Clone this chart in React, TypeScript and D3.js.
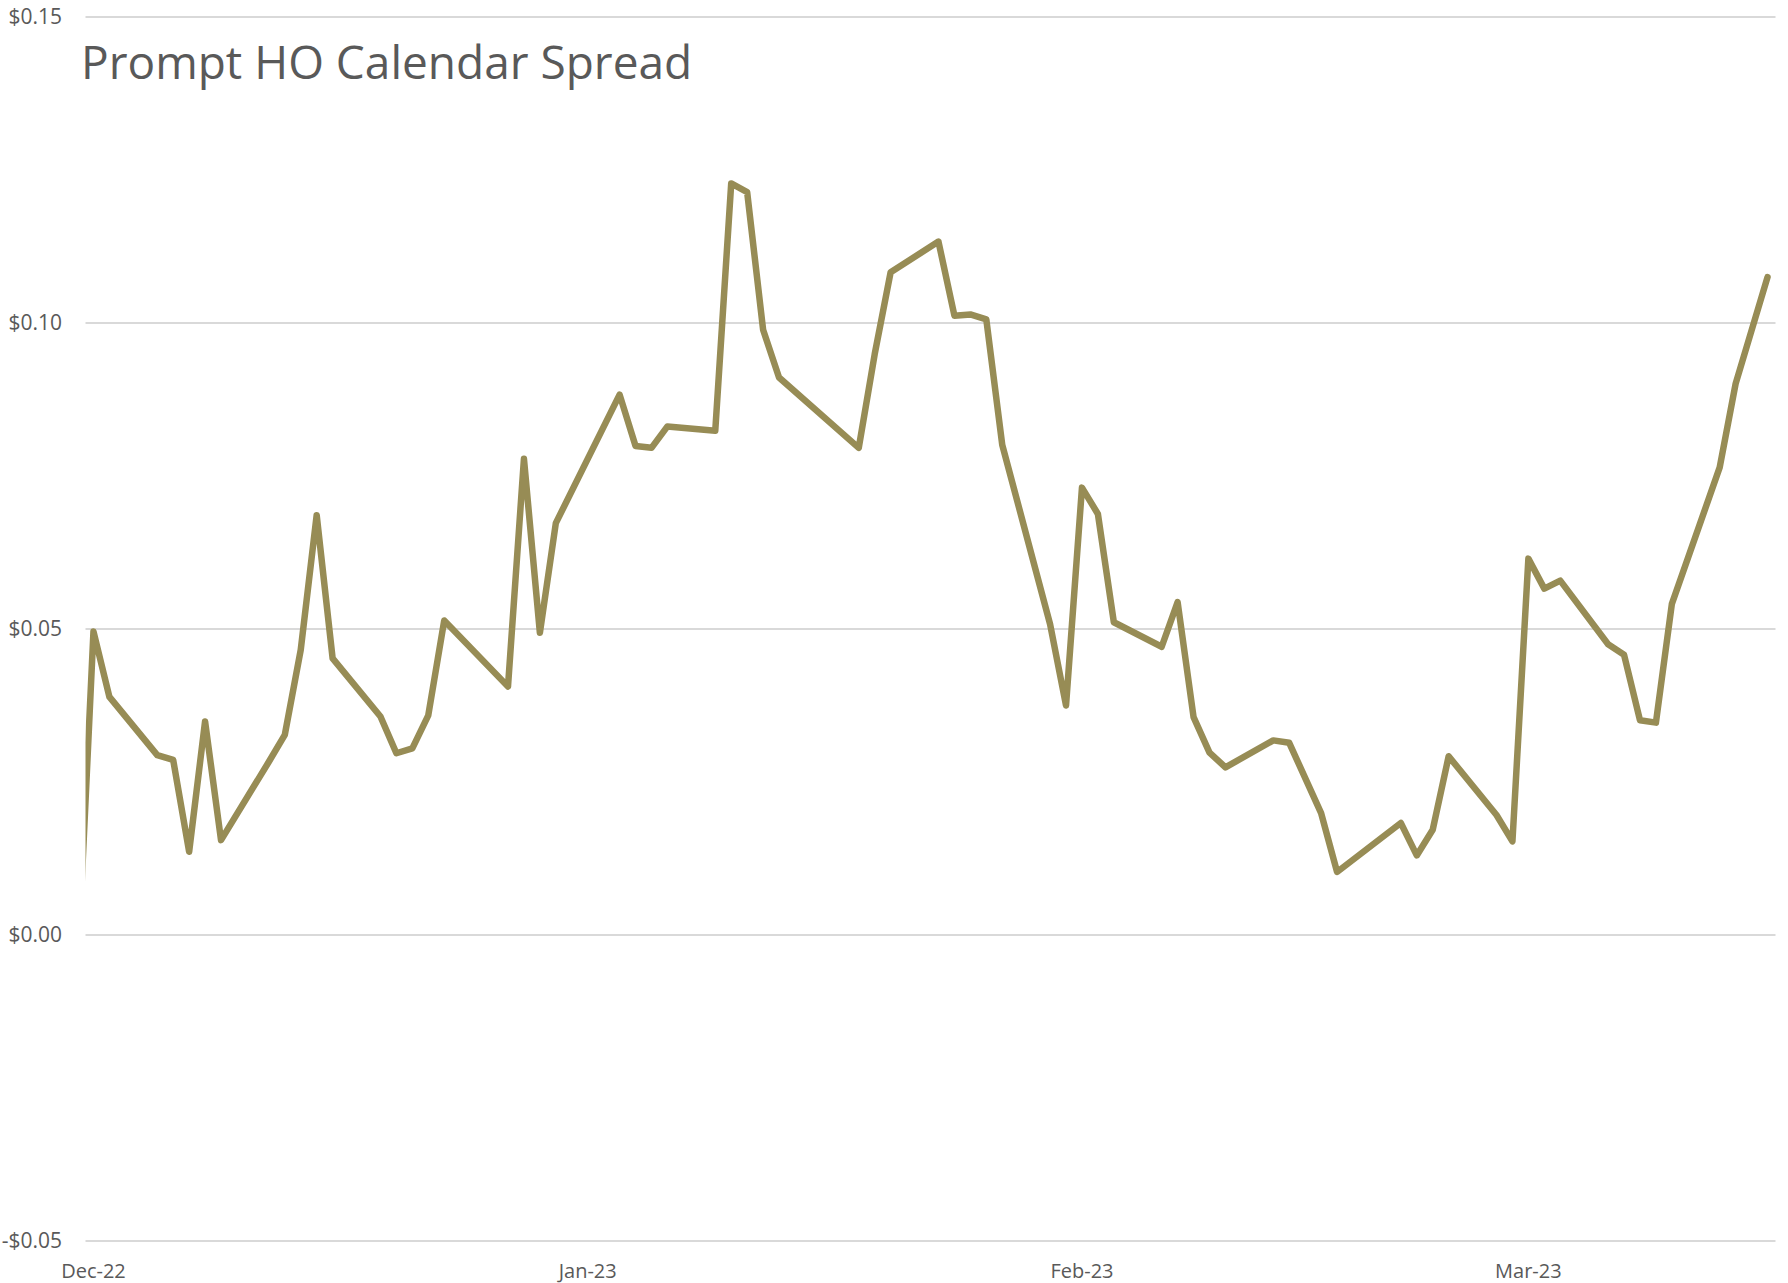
import { useEffect, useRef } from 'react'
import * as d3 from 'd3'

// Trading days shown on the chart (first point sits just left of the plot and gets clipped)
const tradeDates = [
  '2022-11-30', '2022-12-01', '2022-12-02', '2022-12-05', '2022-12-06', '2022-12-07',
  '2022-12-08', '2022-12-09', '2022-12-12', '2022-12-13', '2022-12-14', '2022-12-15',
  '2022-12-16', '2022-12-19', '2022-12-20', '2022-12-21', '2022-12-22', '2022-12-23',
  '2022-12-27', '2022-12-28', '2022-12-29', '2022-12-30', '2023-01-03', '2023-01-04',
  '2023-01-05', '2023-01-06', '2023-01-09', '2023-01-10', '2023-01-11', '2023-01-12',
  '2023-01-13', '2023-01-18', '2023-01-19', '2023-01-20', '2023-01-23', '2023-01-24',
  '2023-01-25', '2023-01-26', '2023-01-27', '2023-01-30', '2023-01-31', '2023-02-01',
  '2023-02-02', '2023-02-03', '2023-02-06', '2023-02-07', '2023-02-08', '2023-02-09',
  '2023-02-10', '2023-02-13', '2023-02-14', '2023-02-16', '2023-02-17', '2023-02-21',
  '2023-02-22', '2023-02-23', '2023-02-24', '2023-02-27', '2023-02-28', '2023-03-01',
  '2023-03-02', '2023-03-03', '2023-03-06', '2023-03-07', '2023-03-08', '2023-03-09',
  '2023-03-10', '2023-03-13', '2023-03-14', '2023-03-16',
]

// Prompt HO calendar spread, $/gal
const spreadValues = [
  -0.006, 0.0496, 0.0389, 0.0294, 0.0286, 0.0136,
  0.0349, 0.0155, 0.0283, 0.0327, 0.0466, 0.0686,
  0.0452, 0.0357, 0.0297, 0.0305, 0.0359, 0.0514,
  0.0406, 0.0778, 0.0494, 0.0673, 0.0883, 0.0799,
  0.0796, 0.0831, 0.0824, 0.1228, 0.1214, 0.0989,
  0.0911, 0.0796, 0.0949, 0.1083, 0.1133, 0.1012,
  0.1014, 0.1006, 0.0801, 0.0508, 0.0375, 0.0731,
  0.0688, 0.0511, 0.0471, 0.0544, 0.0356, 0.0298,
  0.0274, 0.0318, 0.0314, 0.0199, 0.0103, 0.0183,
  0.0130, 0.0172, 0.0292, 0.0196, 0.0153, 0.0615,
  0.0566, 0.0579, 0.0475, 0.0458, 0.0351, 0.0347,
  0.0541, 0.0764, 0.0901, 0.1075,
]

const yTicks = [-0.05, 0, 0.05, 0.1, 0.15]
const monthTicks = ['2022-12-01', '2023-01-01', '2023-02-01', '2023-03-01']
const monthLabels = ['Dec-22', 'Jan-23', 'Feb-23', 'Mar-23']

const W = 1788
const H = 1283
const LINE_COLOUR = '#978c55'
const TEXT_COLOUR = '#595959'
const FONT = '"Open Sans", sans-serif'

export default function App() {
  const svgRef = useRef<SVGSVGElement | null>(null)

  useEffect(() => {
    const svg = d3.select(svgRef.current)
    svg.selectAll('*').remove()

    const parse = d3.utcParse('%Y-%m-%d')
    const points = tradeDates.map((d, i) => ({ date: parse(d) as Date, value: spreadValues[i] }))

    // axis runs half a day either side of the first/last shown day
    const x = d3.scaleUtc()
      .domain([new Date(Date.UTC(2022, 10, 30, 12)), new Date(Date.UTC(2023, 2, 16, 12))])
      .range([85.5, 1775.5])
    const y = d3.scaleLinear().domain([-0.05, 0.15]).range([1241, 17])

    const [x0, x1] = x.range()

    // ── Gridlines ─────────────────────────────────────────────
    svg.append('g')
      .selectAll('line')
      .data(yTicks)
      .join('line')
      .attr('x1', x0)
      .attr('x2', x1)
      .attr('y1', d => y(d))
      .attr('y2', d => y(d))
      .attr('stroke', '#d9d9d9')
      .attr('stroke-width', 2)

    // ── Y labels ──────────────────────────────────────────────
    const fmt = (v: number) => (v < 0 ? '-$' : '$') + Math.abs(v).toFixed(2)
    svg.append('g')
      .selectAll('text')
      .data(yTicks)
      .join('text')
      .attr('x', 62)
      .attr('y', d => y(d))
      .attr('dy', '0.35em')
      .attr('text-anchor', 'end')
      .attr('font-family', FONT)
      .attr('font-size', 21)
      .attr('fill', TEXT_COLOUR)
      .text(d => fmt(d))

    // ── X labels ──────────────────────────────────────────────
    svg.append('g')
      .selectAll('text')
      .data(monthTicks)
      .join('text')
      .attr('x', d => x(parse(d) as Date))
      .attr('y', 1278)
      .attr('text-anchor', 'middle')
      .attr('font-family', FONT)
      .attr('font-size', 20)
      .attr('fill', TEXT_COLOUR)
      .text((d, i) => monthLabels[i])

    // ── Line (clipped to plot area) ──────────────────────────
    svg.append('clipPath')
      .attr('id', 'plot-clip')
      .append('rect')
      .attr('x', x0)
      .attr('y', 0)
      .attr('width', x1 - x0)
      .attr('height', H)

    const line = d3.line<{ date: Date; value: number }>()
      .x(d => x(d.date))
      .y(d => y(d.value))

    svg.append('path')
      .datum(points)
      .attr('clip-path', 'url(#plot-clip)')
      .attr('d', line)
      .attr('fill', 'none')
      .attr('stroke', LINE_COLOUR)
      .attr('stroke-width', 6.5)
      .attr('stroke-linejoin', 'round')
      .attr('stroke-linecap', 'round')

    // ── Title ─────────────────────────────────────────────────
    svg.append('text')
      .attr('x', 81)
      .attr('y', 79)
      .attr('font-family', FONT)
      .attr('font-size', 46)
      .attr('fill', TEXT_COLOUR)
      .text('Prompt HO Calendar Spread')
  }, [])

  return (
    <svg
      ref={svgRef}
      width={W}
      height={H}
      style={{ position: 'absolute', left: 0, top: 0, background: '#fff' }}
    />
  )
}
